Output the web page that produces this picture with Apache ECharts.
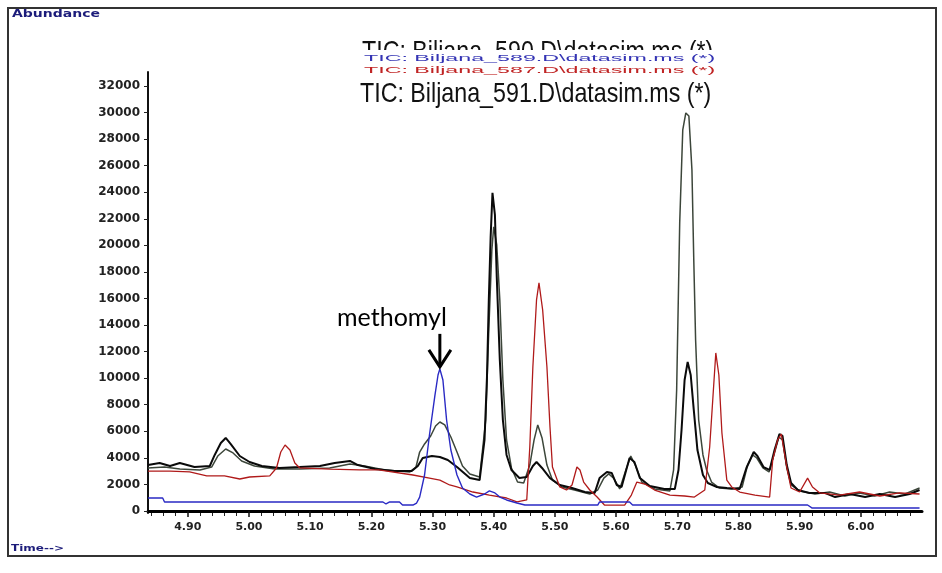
<!DOCTYPE html>
<html>
<head>
<meta charset="utf-8">
<script src="https://cdn.jsdelivr.net/npm/echarts@6/dist/echarts.min.js"></script>
<style>
  html, body { margin: 0; padding: 0; background: #fff; }
  #chart { width: 942px; height: 573px; }
</style>
</head>
<body>
<div id="chart"></div>
<script>
// Retention time (min) and abundance for each TIC overlay
const t589 = [4.835,4.859,4.862,5.219,5.224,5.230,5.246,5.251,5.268,5.274,5.279,5.287,5.295,5.304,5.309,5.312,5.317,5.323,5.330,5.340,5.349,5.361,5.372,5.385,5.393,5.402,5.410,5.421,5.438,5.451,5.570,5.573,5.622,5.627,5.913,5.920,6.096];
const a589 = [980,980,680,680,530,680,680,450,450,600,1050,2710,5720,8730,10240,10700,9860,6850,4590,2710,1730,1280,1050,1280,1510,1360,1050,830,600,450,450,680,680,450,450,230,230];

const t587 = [4.835,4.871,4.903,4.931,4.960,4.985,5.001,5.034,5.045,5.052,5.059,5.067,5.075,5.083,5.132,5.181,5.212,5.268,5.295,5.312,5.328,5.340,5.366,5.393,5.421,5.438,5.454,5.459,5.464,5.470,5.474,5.477,5.480,5.487,5.492,5.496,5.508,5.519,5.528,5.536,5.541,5.547,5.557,5.569,5.581,5.614,5.625,5.634,5.647,5.663,5.688,5.712,5.728,5.745,5.753,5.758,5.763,5.768,5.773,5.781,5.789,5.802,5.827,5.851,5.856,5.864,5.870,5.879,5.886,5.900,5.913,5.921,5.933,5.965,5.998,6.031,6.063,6.096];
const a587 = [3010,3010,2940,2640,2640,2410,2560,2640,3240,4440,4970,4590,3610,3240,3160,3090,3090,2710,2480,2330,1960,1810,1430,1200,980,680,830,4820,10840,15890,17170,17020,15140,10840,6330,3310,1810,1580,1960,3310,3090,2180,1580,1050,450,450,1200,2180,2030,1580,1200,1130,1050,1580,4820,8360,11900,10240,5870,2330,1810,1430,1200,1050,3840,5350,5800,3310,1730,1430,2480,1810,1360,1200,1430,1130,1360,1280];

const t590 = [4.835,4.854,4.871,4.887,4.911,4.936,4.944,4.954,4.962,4.970,4.985,5.001,5.021,5.050,5.083,5.116,5.140,5.165,5.178,5.206,5.238,5.266,5.276,5.284,5.299,5.312,5.325,5.340,5.361,5.377,5.385,5.389,5.392,5.395,5.398,5.402,5.405,5.410,5.415,5.421,5.429,5.442,5.454,5.464,5.470,5.479,5.492,5.508,5.528,5.549,5.565,5.573,5.585,5.593,5.601,5.609,5.622,5.630,5.639,5.655,5.679,5.696,5.702,5.707,5.712,5.717,5.722,5.727,5.733,5.742,5.750,5.764,5.781,5.802,5.813,5.825,5.831,5.841,5.851,5.859,5.867,5.872,5.879,5.886,5.897,5.916,5.941,5.958,5.982,6.007,6.031,6.056,6.080,6.096];
const a590 = [3460,3610,3390,3610,3310,3390,4220,5120,5500,5050,4140,3690,3390,3240,3310,3390,3610,3770,3460,3160,3010,3010,3390,3990,4140,4070,3840,3310,2480,2330,5350,10090,15890,20630,23950,22290,17620,11370,6850,4220,3090,2480,2560,3390,3690,3240,2480,1960,1730,1430,1360,2480,2940,2860,1960,1810,3990,3690,2480,1880,1660,1660,3090,6100,9860,11220,10240,7610,4590,2710,2110,1810,1730,1660,3240,4440,4140,3310,3090,4590,5800,5650,3460,2110,1580,1360,1360,1050,1280,1050,1280,1050,1280,1580];

const t591 = [4.835,4.862,4.887,4.920,4.939,4.949,4.962,4.974,4.988,5.009,5.042,5.083,5.132,5.165,5.189,5.222,5.263,5.273,5.279,5.287,5.297,5.305,5.312,5.320,5.330,5.340,5.349,5.361,5.377,5.387,5.392,5.397,5.400,5.405,5.410,5.415,5.421,5.429,5.439,5.449,5.459,5.466,5.472,5.479,5.487,5.496,5.511,5.532,5.557,5.570,5.580,5.588,5.596,5.606,5.616,5.624,5.632,5.642,5.663,5.688,5.694,5.699,5.704,5.709,5.714,5.719,5.724,5.727,5.730,5.735,5.742,5.748,5.756,5.769,5.789,5.806,5.815,5.823,5.830,5.840,5.850,5.858,5.866,5.872,5.879,5.886,5.900,5.925,5.949,5.974,5.998,6.023,6.047,6.072,6.096];
const a591 = [3240,3310,3160,3090,3310,4140,4670,4370,3770,3390,3160,3160,3240,3540,3390,3090,2940,3310,4440,5050,5650,6400,6700,6480,5570,4440,3390,2790,2560,6850,13630,19650,21390,20030,15890,9860,5350,3240,2180,2110,3460,5350,6480,5500,3460,2330,1810,1580,1280,1580,2480,2790,2480,1660,3090,4140,3390,2180,1660,1510,3090,9110,21690,28690,29970,29740,25680,18900,12880,6850,4220,3090,2180,1730,1660,1810,3460,4220,3990,3240,2940,4220,5570,5350,3240,1960,1510,1280,1430,1130,1360,1130,1430,1280,1730];

// Axis tick labels
const timeTicks = ['4.90','5.00','5.10','5.20','5.30','5.40','5.50','5.60','5.70','5.80','5.90','6.00'];
const abundanceTicks = [0,2000,4000,6000,8000,10000,12000,14000,16000,18000,20000,22000,24000,26000,28000,30000,32000];

// Overlay titles (file names)
const overlayTitles = [
  'TIC: Biljana_590.D\\datasim.ms (*)',
  'TIC: Biljana_589.D\\datasim.ms (*)',
  'TIC: Biljana_587.D\\datasim.ms (*)',
  'TIC: Biljana_591.D\\datasim.ms (*)'
];
const peakName = 'methomyl';
const peakPoint = [5.312, 10700];

const zip = (t, a) => t.map((x, i) => [x, a[i]]);

const majorTimes = timeTicks.map(Number);
const minorTimes = [];
for (let k = 242; k <= 304; k++) {
  if (k % 5 !== 0) minorTimes.push(+(k / 50).toFixed(2));
}

const X_MIN = 4.835, X_MAX = 6.10;

const chart = echarts.init(document.getElementById('chart'), null, { renderer: 'canvas' });

const lineSeries = (name, data, color, width) => ({
  name, type: 'line', data, showSymbol: false, symbol: 'none',
  animation: false, lineStyle: { color, width }, z: 3
});

const option = {
  animation: false,
  backgroundColor: '#fff',
  grid: { left: 148, right: 20, top: 72, bottom: 60, containLabel: false },
  xAxis: [
    {
      type: 'value', min: X_MIN, max: X_MAX,
      axisLine: { show: true, lineStyle: { color: '#000', width: 3 } },
      axisTick: { show: true, customValues: majorTimes, length: 6, lineStyle: { color: '#111', width: 1.5 } },
      axisLabel: {
        show: true, customValues: majorTimes, margin: 9,
        formatter: v => v.toFixed(2),
        color: '#222', fontFamily: 'DejaVu Sans', fontWeight: 'bold', fontSize: 11
      },
      splitLine: { show: false }
    },
    {
      type: 'value', min: X_MIN, max: X_MAX, position: 'bottom',
      axisLine: { show: false },
      axisTick: { show: true, customValues: minorTimes, length: 3, lineStyle: { color: '#222', width: 1 } },
      axisLabel: { show: false },
      splitLine: { show: false }
    }
  ],
  yAxis: {
    type: 'value', min: -150, max: 33050,
    axisLine: { show: true, lineStyle: { color: '#111', width: 2 } },
    axisTick: { show: true, customValues: abundanceTicks, length: 4, lineStyle: { color: '#222', width: 1 } },
    axisLabel: {
      show: true, customValues: abundanceTicks, margin: 8,
      formatter: v => String(v),
      color: '#222', fontFamily: 'DejaVu Sans', fontWeight: 'bold', fontSize: 12
    },
    splitLine: { show: false }
  },
  series: [
    lineSeries(overlayTitles[3], zip(t591, a591), '#3c463a', 1.5),
    lineSeries(overlayTitles[0], zip(t590, a590), '#0a0a0a', 2),
    lineSeries(overlayTitles[2], zip(t587, a587), '#b01a1a', 1.3),
    lineSeries(overlayTitles[1], zip(t589, a589), '#2a2ac4', 1.4)
  ],
  graphic: [
    { type: 'rect', id: 'frame', shape: { x: 8, y: 8, width: 928, height: 548 },
      style: { fill: 'none', stroke: '#333', lineWidth: 2 }, z: 10 },
    { type: 'text', id: 'ylab', x: 12, y: 20, scaleY: 0.75,
      style: { text: 'Abundance', font: 'bold 14px "DejaVu Sans"', fill: '#1c1c7a', textVerticalAlign: 'bottom' }, z: 10 },
    { type: 'text', id: 'xlab', x: 11, y: 553, scaleY: 0.75,
      style: { text: 'Time-->', font: 'bold 12px "DejaVu Sans"', fill: '#1c1c7a', textVerticalAlign: 'bottom' }, z: 10 },
    // stacked overlay titles; upper lines partly hidden by the ones below
    { type: 'text', id: 'tt0', x: 362, y: 38, scaleX: 0.83,
      style: { text: overlayTitles[0], font: '28px "Liberation Sans"', fill: '#111', textVerticalAlign: 'top' }, z: 10 },
    { type: 'rect', id: 'mask', shape: { x: 340, y: 50, width: 390, height: 30 },
      style: { fill: '#fff' }, z: 11 },
    { type: 'text', id: 'tt1', x: 364, y: 63, scaleX: 0.83, scaleY: 0.3,
      style: { text: overlayTitles[1], font: '28px "Liberation Sans"', fill: '#3434b4', textVerticalAlign: 'bottom' }, z: 12 },
    { type: 'text', id: 'tt2', x: 364, y: 75, scaleX: 0.83, scaleY: 0.3,
      style: { text: overlayTitles[2], font: '28px "Liberation Sans"', fill: '#c02424', textVerticalAlign: 'bottom' }, z: 12 },
    { type: 'text', id: 'tt3', x: 360, y: 80, scaleX: 0.83,
      style: { text: overlayTitles[3], font: '28px "Liberation Sans"', fill: '#111', textVerticalAlign: 'top' }, z: 12 }
  ]
};

chart.setOption(option);

// Peak annotation: arrow and name placed from the peak's data coordinates
const p = chart.convertToPixel({ xAxisIndex: 0, yAxisIndex: 0 }, peakPoint);
const tipY = p[1] - 2;
chart.setOption({
  graphic: [
    { type: 'polyline', id: 'arrowShaft', shape: { points: [[p[0], tipY - 33], [p[0], tipY]] },
      style: { stroke: '#000', lineWidth: 3, fill: 'none' }, z: 12 },
    { type: 'polyline', id: 'arrowHead', shape: { points: [[p[0] - 11, tipY - 17], [p[0], tipY], [p[0] + 11, tipY - 17]] },
      style: { stroke: '#000', lineWidth: 3, fill: 'none', lineJoin: 'miter' }, z: 12 },
    { type: 'text', id: 'peakName', x: p[0] + 7, y: tipY - 36,
      style: { text: peakName, font: '25px Lato', fill: '#000', textAlign: 'right', textVerticalAlign: 'bottom' }, z: 12 }
  ]
});
</script>
</body>
</html>
